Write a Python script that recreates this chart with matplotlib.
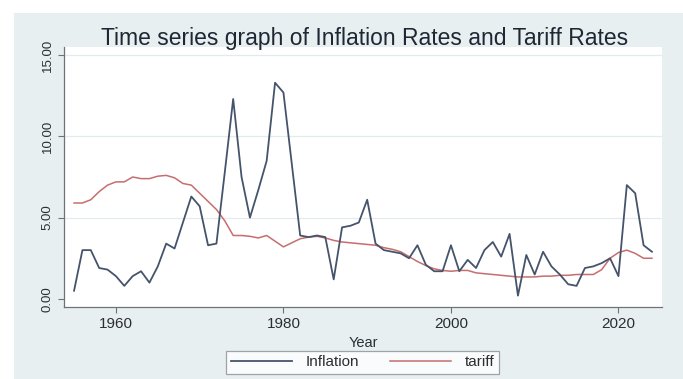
import matplotlib
matplotlib.use("Agg")
import matplotlib.pyplot as plt
from matplotlib.patches import Rectangle

years = list(range(1955, 2025))

inflation = [
    0.5, 3.0, 3.0, 1.9, 1.8, 1.4, 0.8, 1.4, 1.7, 1.0,   # 1955-1964
    2.0, 3.4, 3.1, 4.7, 6.3, 5.7, 3.3, 3.4, 7.8, 12.3,  # 1965-1974
    7.5, 5.0, 6.7, 8.5, 13.3, 12.7, 8.3, 3.9, 3.8, 3.9, # 1975-1984
    3.8, 1.2, 4.4, 4.5, 4.7, 6.1, 3.4, 3.0, 2.9, 2.8,   # 1985-1994
    2.5, 3.3, 2.1, 1.7, 1.7, 3.3, 1.7, 2.4, 1.9, 3.0,   # 1995-2004
    3.5, 2.6, 4.0, 0.2, 2.7, 1.5, 2.9, 2.0, 1.5, 0.9,   # 2005-2014
    0.8, 1.9, 2.0, 2.2, 2.5, 1.4, 7.0, 6.5, 3.3, 2.9,   # 2015-2024
]

tariff = [
    5.9, 5.9, 6.1, 6.6, 7.0, 7.2, 7.2, 7.5, 7.4, 7.4,       # 1955-1964
    7.55, 7.6, 7.45, 7.1, 7.0, 6.5, 6.0, 5.5, 4.8, 3.9,     # 1965-1974
    3.9, 3.85, 3.75, 3.9, 3.55, 3.2, 3.45, 3.7, 3.8, 3.85,  # 1975-1984
    3.75, 3.6, 3.5, 3.45, 3.4, 3.35, 3.3, 3.15, 3.05, 2.9,  # 1985-1994
    2.6, 2.3, 2.05, 1.85, 1.75, 1.7, 1.75, 1.75, 1.6, 1.55, # 1995-2004
    1.5, 1.45, 1.4, 1.35, 1.35, 1.35, 1.4, 1.4, 1.45, 1.45, # 2005-2014
    1.5, 1.5, 1.5, 1.8, 2.5, 2.85, 3.0, 2.8, 2.5, 2.5,      # 2015-2024
]

x_ticks = [1960, 1980, 2000, 2020]
y_ticks = [0, 5, 10, 15]
y_tick_labels = ["0.00", "5.00", "10.00", "15.00"]

title_text = "Time series graph of Inflation Rates and Tariff Rates"
series_names = ["Inflation", "tariff"]

W, H = 683, 379
bg = "#E8EFF1"
axis_col = "#6E7378"
text_col = "#2B2F33"
infl_col = "#45536B"
tariff_col = "#C76D6D"

plt.rcParams["font.family"] = ["Liberation Sans", "DejaVu Sans"]

fig = plt.figure(figsize=(W / 100, H / 100), dpi=100)
fig.patch.set_facecolor("white")
# graph region background, with a thin white margin on the left and top
fig.add_artist(Rectangle((14 / W, 0), 1 - 14 / W, 1 - 13 / H,
                         transform=fig.transFigure, facecolor=bg,
                         edgecolor="none", zorder=0))

left, right, top, bottom = 64, 662, 47, 307
ax = fig.add_axes([left / W, 1 - bottom / H, (right - left) / W, (bottom - top) / H])
ax.set_facecolor("white")
ax.set_zorder(1)

ax.plot(years, inflation, color=infl_col, lw=1.3, label=series_names[0], zorder=3)
ax.plot(years, tariff, color=tariff_col, lw=1.1, label=series_names[1], zorder=2)

ax.set_xlim(1953.8, 2025.2)
ax.set_ylim(-0.5, 15.5)

for yv in y_ticks[1:]:
    ax.axhline(yv, color="#E3EBEE", lw=0.9, zorder=1)

ax.set_xticks(x_ticks)
ax.set_xticklabels([str(v) for v in x_ticks], fontsize=11, color=text_col)
ax.set_yticks(y_ticks)
ax.set_yticklabels(y_tick_labels, fontsize=9.5, color=text_col,
                   rotation=90, va="center")

ax.tick_params(axis="both", direction="out", length=4.5, width=0.8,
               color=axis_col, pad=3)

for s in ["top", "right"]:
    ax.spines[s].set_visible(False)
for s in ["left", "bottom"]:
    ax.spines[s].set_color(axis_col)
    ax.spines[s].set_linewidth(0.9)

ax.set_xlabel("Year", fontsize=10.5, color=text_col, labelpad=3)

fig.text(0.5 * (94 + 636) / W, 1 - 38 / H, title_text, fontsize=16.5,
         color="#1E2733", ha="center", va="center")

leg = fig.legend(loc="center", bbox_to_anchor=(362.5 / W, 1 - 362.5 / H),
                 ncol=2, fontsize=11, frameon=True, fancybox=False,
                 handlelength=4.0, columnspacing=2.0, handletextpad=0.9,
                 borderpad=0.3)
leg.get_frame().set_edgecolor("#8A8F94")
leg.get_frame().set_linewidth(0.9)
leg.get_frame().set_facecolor("white")
for t in leg.get_texts():
    t.set_color(text_col)

fig.savefig("out.png", dpi=100, facecolor=fig.get_facecolor())
